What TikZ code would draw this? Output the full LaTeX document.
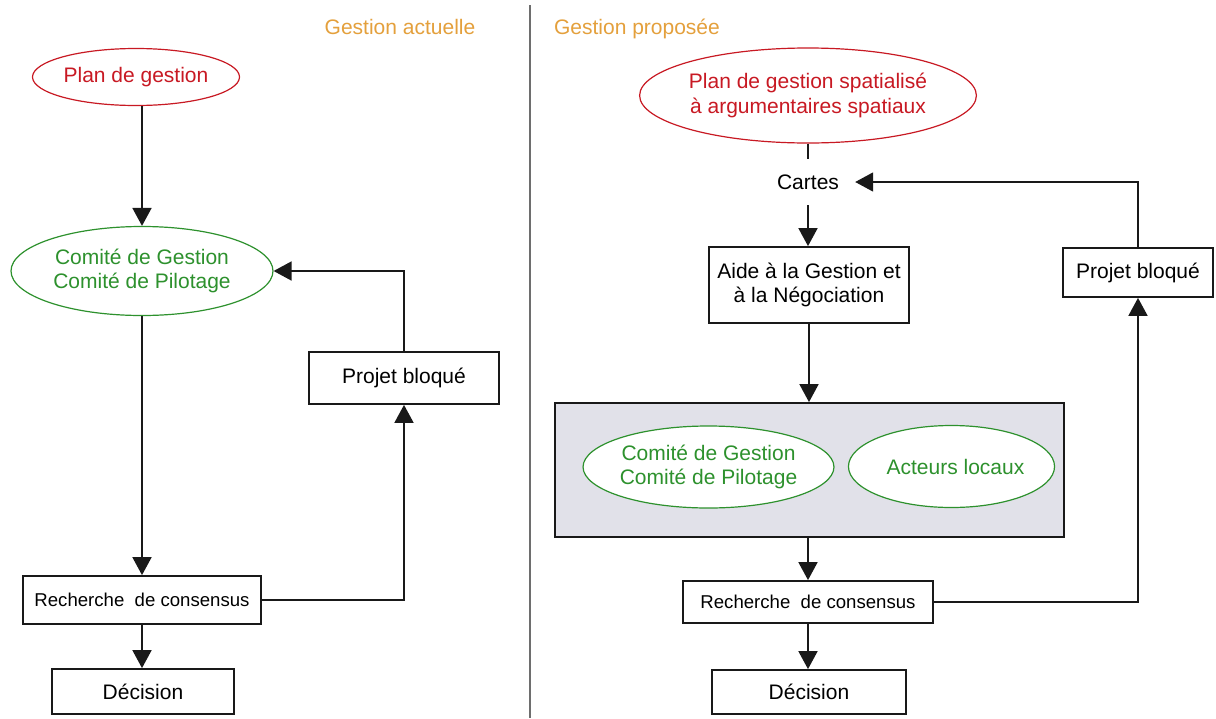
\documentclass[tikz,border=0pt]{standalone}
\usepackage{fontspec}
\setmainfont{Liberation Sans}
\usetikzlibrary{arrows.meta,shapes.geometric}
\definecolor{redT}{RGB}{200,25,35}
\definecolor{greenT}{RGB}{45,145,45}
\definecolor{orangeT}{RGB}{228,160,60}
\definecolor{grayfill}{RGB}{225,225,233}
\definecolor{lineC}{RGB}{25,25,25}
\begin{document}
\begin{tikzpicture}[x=1pt,y=-1pt,
  bigfont/.style={font=\fontsize{21}{24.5}\selectfont},
  smallfont/.style={font=\fontsize{18.6}{22}\selectfont},
  ell/.style={ellipse,draw,fill=white,line width=1.2pt,inner sep=0pt,align=center,bigfont},
  redell/.style={ell,draw=redT,text=redT},
  greenell/.style={ell,draw=greenT,text=greenT},
  box/.style={rectangle,draw=lineC,fill=white,line width=1.8pt,inner sep=0pt,align=center,bigfont},
  graybox/.style={rectangle,draw=lineC,fill=grayfill,line width=1.8pt,inner sep=0pt},
  title/.style={bigfont,text=orangeT,inner sep=0pt},
  conn/.style={draw=lineC,line width=1.8pt},
  arr/.style={conn,-{Triangle[width=19pt,length=18pt]}},
  divider/.style={draw={rgb,255:red,110;green,110;blue,110},line width=1.5pt}
]
\useasboundingbox[fill=white] (0,0) rectangle (1216,718);

% ---------- left: gestion actuelle ----------
\node[title] (tL) at (400,27) {Gestion actuelle};
\node[redell,minimum width=207,minimum height=57] (planL) at (136,77) {Plan de gestion};
\node[greenell,minimum width=262,minimum height=89] (comL) at (142,271) {Comité de Gestion\\Comité de Pilotage};
\node[box,smallfont,minimum width=238,minimum height=48] (recL) at (142,600) {Recherche\ \ de consensus};
\node[box,minimum width=182,minimum height=45] (decL) at (143,691.5) {Décision};
\node[box,minimum width=190,minimum height=52] (projL) at (404,378) {Projet bloqué};

\draw[arr] (planL.south -| comL.north) -- (comL.north);
\draw[arr] (comL.south) -- (recL.north);
\draw[arr] (recL.south) -- (recL.south |- decL.north);
\draw[arr] (recL.east) -| (projL.south);
\draw[arr] (projL.north) |- (comL.east);

% ---------- divider ----------
\coordinate (dTop) at (530,5);
\coordinate (dBot) at (530,718);
\draw[divider] (dTop) -- (dBot);

% ---------- right: gestion proposee ----------
\node[title] (tR) at (637,29) {Gestion proposée};
\node[redell,minimum width=320,minimum height=95] (planR) at (808,95.5) {Plan de gestion spatialisé\\à argumentaires spatiaux};
\node[bigfont,inner sep=0pt,minimum width=94,minimum height=46] (cartes) at (808,182) {Cartes};
\node[box,minimum width=200,minimum height=76] (aide) at (809,285) {Aide à la Gestion et\\ à la Négociation};
\node[box,minimum width=150,minimum height=49] (projR) at (1138,272.5) {Projet bloqué};
\node[graybox,minimum width=509,minimum height=134] (grp) at (809.5,470) {};
\node[greenell,minimum width=245,minimum height=82] (comR) at (708.5,467) {Comité de Gestion\\Comité de Pilotage};
\node[greenell,minimum width=199,minimum height=82] (act) at (951.5,466.5) {\hspace*{8pt}Acteurs locaux};
\node[box,smallfont,minimum width=250,minimum height=42] (recR) at (808,602) {Recherche\ \ de consensus};
\node[box,minimum width=194,minimum height=44] (decR) at (809,692) {Décision};

\draw[conn] (planR.south) -- (cartes.north);
\draw[arr] (cartes.south) -- (cartes.south |- aide.north);
\draw[arr] (projR.north) |- (cartes.east);
\draw[arr] (aide.south) -- (aide.south |- grp.north);
\draw[arr] (grp.south -| recR.north) -- (recR.north);
\draw[arr] (recR.south) -- (recR.south |- decR.north);
\draw[arr] (recR.east) -| (projR.south);
\end{tikzpicture}
\end{document}
